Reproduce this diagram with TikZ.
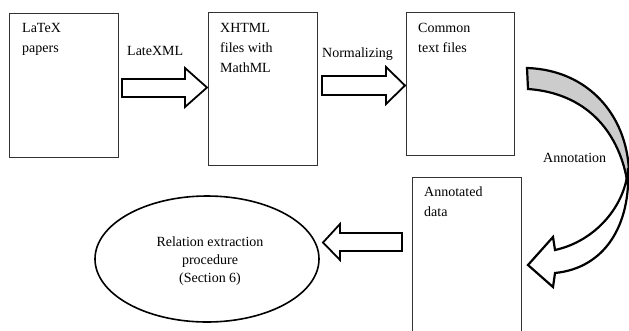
\documentclass[tikz,border=0pt]{standalone}
\usepackage{fontspec}
\setmainfont{Liberation Serif}
\usetikzlibrary{shapes.geometric}
\begin{document}
\begin{tikzpicture}[x=1pt,y=-1pt,
  docbox/.style={draw=black!80,line width=1pt,inner sep=0pt},
  lbl/.style={inner sep=0pt,align=left,text=black,font=\fontsize{14}{20}\selectfont},
  blockarrow/.style={draw=black,line width=1.8pt,fill=white,line join=miter},
  curvearrow/.style={draw=black,line width=2.2pt,line join=miter}]
\useasboundingbox (0,0) rectangle (629,330);
\fill[white] (0,0) rectangle (629,330);
\clip (0,0) rectangle (629,330);
% document boxes
\node[docbox,minimum width=109pt,minimum height=144pt] (b1) at (63.5,85) {};
\node[docbox,minimum width=109pt,minimum height=153pt] (b2) at (262.5,88.5) {};
\node[docbox,minimum width=108pt,minimum height=143pt] (b3) at (460,83.5) {};
\node[docbox,minimum width=109pt,minimum height=170pt] (b4) at (466.5,262) {};
% box texts
\node[lbl,anchor=north west] (t1) at (22,23.5) {LaTeX\\papers};
\node[lbl,anchor=north west] (t2) at (220,23.5) {XHTML\\files with\\MathML};
\node[lbl,anchor=north west] (t3) at (418,23.5) {Common\\text files};
\node[lbl,anchor=north west] (t4) at (424,187) {Annotated\\data};
% ellipse
\node[ellipse,draw=black,line width=1.6pt,minimum width=224pt,minimum height=126pt,inner sep=0pt] (e) at (207,259) {};
\node[inner sep=0pt,align=center,text=black,font=\fontsize{14}{18}\selectfont] (et) at (210,261) {Relation extraction\\procedure\\(Section 6)};
% block arrows
\draw[blockarrow] (122,79) -- (185,79) -- (185,68) -- (207,87.5) -- (185,107) -- (185,97) -- (122,97) -- cycle;
\draw[blockarrow] (322,76) -- (386,76) -- (386,67) -- (405,85.5) -- (386,104) -- (386,95) -- (322,95) -- cycle;
\draw[blockarrow] (402,233) -- (340,233) -- (340,224) -- (323,242.5) -- (340,260) -- (340,251) -- (402,251) -- cycle;
% arrow labels
\node[lbl,anchor=base west] (l1) at (127,55) {LateXML};
\node[lbl,anchor=base west] (l2) at (322,57) {Normalizing};
\node[lbl,anchor=base west] (l3) at (543,162) {Annotation};
% curved arrow: back band
\draw[curvearrow,fill=black!20] (527,68) .. controls (588,70) and (627,115) .. (629,172)
  -- (627,180) .. controls (618,130) and (585,93) .. (528,89) -- cycle;
% curved arrow: front with head
\draw[curvearrow,fill=white] (555,250) -- (553,237) -- (528,265) -- (553,287) -- (555,273)
  .. controls (605,268) and (631,225) .. (628,168)
  .. controls (626,205) and (596,241) .. (555,250) -- cycle;
\end{tikzpicture}
\end{document}
